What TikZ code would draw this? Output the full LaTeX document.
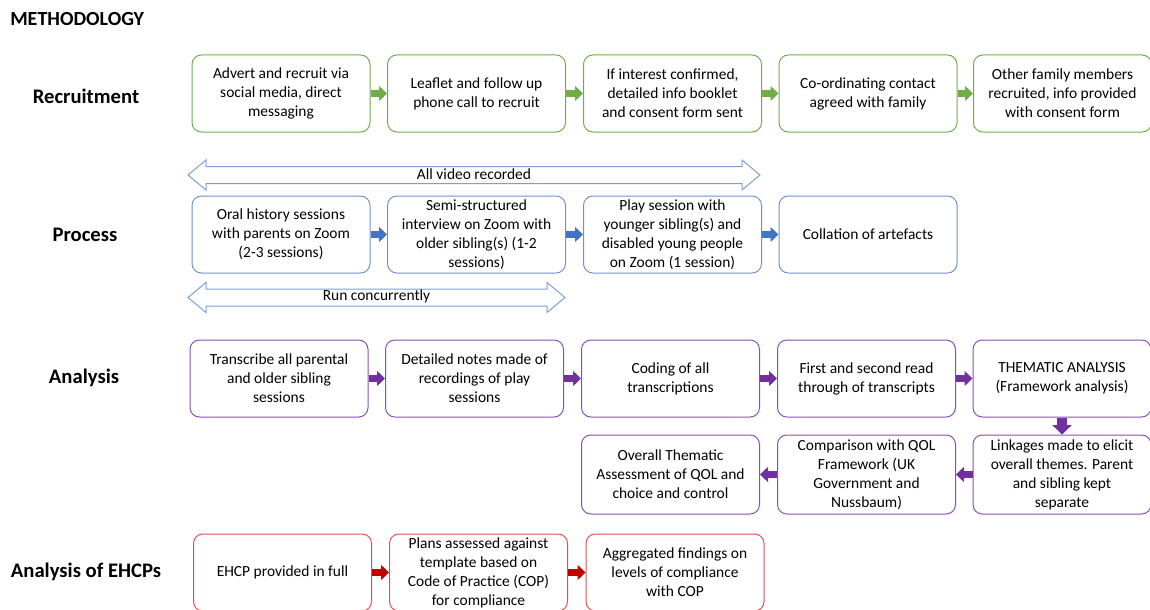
\documentclass[tikz,border=0pt]{standalone}
\usepackage{fontspec}
\setmainfont{Carlito}
\usetikzlibrary{arrows.meta}
\definecolor{gr}{HTML}{70AD47}
\definecolor{bl}{HTML}{4472C4}
\definecolor{blb}{HTML}{6F8FD0}
\definecolor{pu}{HTML}{7030A0}
\definecolor{pub}{HTML}{8A4DB8}
\definecolor{rd}{HTML}{C00000}
\definecolor{rdb}{HTML}{E05050}
\definecolor{dblc}{HTML}{7F9ED6}
\newcommand\dblarrow[5]{%
  \draw[dblshape] (#1,#3) -- (#1+18,#3-15) -- (#1+18,#3-8.5) -- (#2-18,#3-8.5) -- (#2-18,#3-15)
     -- (#2,#3) -- (#2-18,#3+15) -- (#2-18,#3+8.5) -- (#1+18,#3+8.5) -- (#1+18,#3+15) -- cycle;
  \node[boxtext] (#5) at ({(#1+#2)/2},#3-1) {#4};}
\begin{document}
\begin{tikzpicture}[x=0.75pt,y=-0.75pt,
  boxtext/.style={font=\fontsize{11.6}{14.25}\selectfont, inner sep=0pt},
  box/.style={draw, rounded corners=7pt, line width=0.75pt, minimum width=133.5pt,
     minimum height=57.75pt, align=center, font=\fontsize{11.6}{14.25}\selectfont, inner sep=1pt},
  rbox/.style={box, draw=gr},
  pbox/.style={box, draw=blb},
  abox/.style={box, draw=pub},
  ebox/.style={box, draw=rdb},
  rowhead/.style={font=\fontsize{15.5}{18}\selectfont\bfseries, inner sep=0pt},
  flow/.style={line width=5.6pt, -{Triangle[length=6pt,width=11.5pt,line width=0pt]}},
  dflow/.style={line width=7pt, -{Triangle[length=7pt,width=14.5pt,line width=0pt]}},
  dblshape/.style={draw=dblc, line width=0.75pt, fill=white},
  ]
\useasboundingbox (0,0) rectangle (1150,610);

% headings
\node[rowhead, anchor=west, font=\fontsize{15}{17}\selectfont\bfseries] (meth) at (10,19) {METHODOLOGY};
\node[rowhead] (hrec) at (86,96) {Recruitment};
\node[rowhead] (hpro) at (85,235) {Process};
\node[rowhead] (hana) at (84,378) {Analysis};
\node[rowhead] (hehc) at (86,572) {Analysis of EHCPs};

% recruitment
\node[rbox] (r1) at (281,93.5) {Advert and recruit via\\social media, direct\\messaging};
\node[rbox] (r2) at (476.5,93.5) {Leaflet and follow up\\phone call to recruit};
\node[rbox] (r3) at (672.5,93.5) {If interest confirmed,\\detailed info booklet\\and consent form sent};
\node[rbox] (r4) at (868,93.5) {Co-ordinating contact\\agreed with family};
\node[rbox] (r5) at (1062.5,93.5) {Other family members\\recruited, info provided\\with consent form};
\draw[flow, gr] (r1) -- (r2);
\draw[flow, gr] (r2) -- (r3);
\draw[flow, gr] (r3) -- (r4);
\draw[flow, gr] (r4) -- (r5);

% process
\dblarrow{188}{760}{175}{All video recorded}{allvid}
\node[pbox] (p1) at (281,234.5) {Oral history sessions\\with parents on Zoom\\(2-3 sessions)};
\node[pbox] (p2) at (476.5,234.5) {Semi-structured\\interview on Zoom with\\older sibling(s) (1-2\\sessions)};
\node[pbox] (p3) at (672.5,234.5) {Play session with\\younger sibling(s) and\\disabled young people\\on Zoom (1 session)};
\node[pbox] (p4) at (868,234.5) {Collation of artefacts};
\draw[flow, bl] (p1) -- (p2);
\draw[flow, bl] (p2) -- (p3);
\draw[flow, bl] (p3) -- (p4);
\dblarrow{188}{565}{297.5}{Run concurrently}{runcon}

% analysis
\node[abox] (a1) at (279,378.5) {Transcribe all parental\\and older sibling\\sessions};
\node[abox] (a2) at (474.5,378.5) {Detailed notes made of\\recordings of play\\sessions};
\node[abox] (a3) at (670.5,378.5) {Coding of all\\transcriptions};
\node[abox] (a4) at (866.5,378.5) {First and second read\\through of transcripts};
\node[abox] (a5) at (1062,378.5) {THEMATIC ANALYSIS\\(Framework analysis)};
\node[abox, minimum height=59.25pt] (a6) at (1062,474.5) {Linkages made to elicit\\overall themes. Parent\\and sibling kept\\separate};
\node[abox, minimum height=59.25pt] (a7) at (866.5,474.5) {Comparison with QOL\\Framework (UK\\Government and\\Nussbaum)};
\node[abox, minimum height=59.25pt] (a8) at (670.5,474.5) {Overall Thematic\\Assessment of QOL and\\choice and control};
\draw[flow, pu] (a1) -- (a2);
\draw[flow, pu] (a2) -- (a3);
\draw[flow, pu] (a3) -- (a4);
\draw[flow, pu] (a4) -- (a5);
\draw[dflow, pu] (a5) -- (a6);
\draw[flow, pu] (a6) -- (a7);
\draw[flow, pu] (a7) -- (a8);

% EHCPs
\node[ebox] (e1) at (282.5,572.5) {EHCP provided in full};
\node[ebox] (e2) at (478.5,572.5) {Plans assessed against\\template based on\\Code of Practice (COP)\\for compliance};
\node[ebox] (e3) at (675,572.5) {Aggregated findings on\\levels of compliance\\with COP};
\draw[flow, rd] (e1) -- (e2);
\draw[flow, rd] (e2) -- (e3);
\end{tikzpicture}
\end{document}
